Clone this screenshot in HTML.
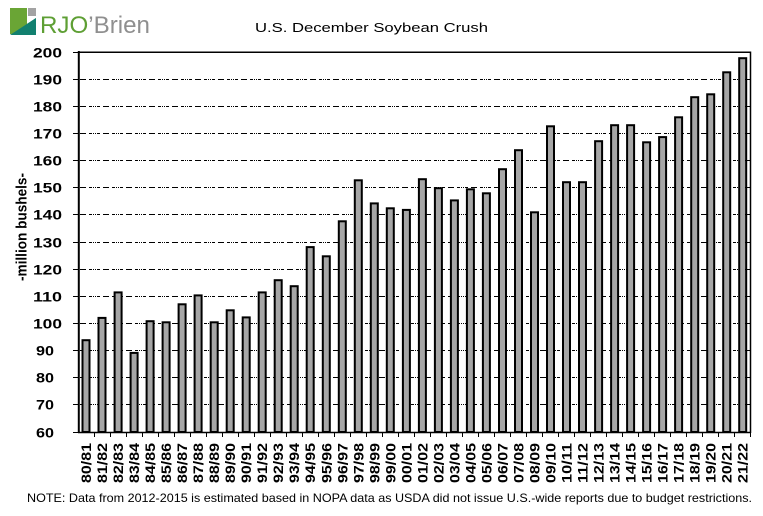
<!DOCTYPE html>
<html><head><meta charset="utf-8"><style>
html,body{margin:0;padding:0;background:#fff;}
svg{display:block;}
text{font-family:"Liberation Sans",Arial,sans-serif;fill:#000;}
.yl{font-size:14px;font-weight:bold;}
.xl{font-size:14px;font-weight:bold;}
</style></head><body>
<svg width="763" height="516" viewBox="0 0 763 516" xmlns="http://www.w3.org/2000/svg">
<rect width="763" height="516" fill="#fff"/>
<!-- logo -->
<rect x="10" y="8" width="17" height="26" fill="#6aa535"/>
<rect x="28" y="8" width="8" height="8" fill="#a3a3a3"/>
<polygon points="10,35 36,18 36,35" fill="#12806f"/>
<polygon points="27,24 36,18 36,35 27,35" fill="#12806f"/>
<text x="40" y="33" font-size="24" textLength="110" lengthAdjust="spacingAndGlyphs"><tspan style="fill:#5e9f34">RJO</tspan><tspan style="fill:#8f8f8f">’Brien</tspan></text>
<!-- title -->
<text x="255" y="32" font-size="13" textLength="233" lengthAdjust="spacingAndGlyphs">U.S. December Soybean Crush</text>
<!-- gridlines -->
<g stroke="#000" stroke-width="1.1" stroke-dasharray="6 3 3 1 1 1 1 1 3 3" fill="none">
<line x1="80" y1="404.5" x2="750" y2="404.5"/>
<line x1="80" y1="377.5" x2="750" y2="377.5"/>
<line x1="80" y1="350.5" x2="750" y2="350.5"/>
<line x1="80" y1="323.5" x2="750" y2="323.5"/>
<line x1="80" y1="296.5" x2="750" y2="296.5"/>
<line x1="80" y1="269.5" x2="750" y2="269.5"/>
<line x1="80" y1="242.5" x2="750" y2="242.5"/>
<line x1="80" y1="214.5" x2="750" y2="214.5"/>
<line x1="80" y1="187.5" x2="750" y2="187.5"/>
<line x1="80" y1="160.5" x2="750" y2="160.5"/>
<line x1="80" y1="133.5" x2="750" y2="133.5"/>
<line x1="80" y1="106.5" x2="750" y2="106.5"/>
<line x1="80" y1="79.5" x2="750" y2="79.5"/>
</g>
<!-- bars -->
<g fill="#a6a6a6" stroke="#000" stroke-width="2">
<rect x="82.5" y="340.2" width="7" height="91.8"/>
<rect x="98.5" y="317.9" width="7" height="114.1"/>
<rect x="114.6" y="292.4" width="7" height="139.6"/>
<rect x="130.6" y="352.9" width="7" height="79.1"/>
<rect x="146.6" y="321.2" width="7" height="110.8"/>
<rect x="162.6" y="322.3" width="7" height="109.7"/>
<rect x="178.6" y="304.3" width="7" height="127.7"/>
<rect x="194.6" y="295.4" width="7" height="136.6"/>
<rect x="210.7" y="322.3" width="7" height="109.7"/>
<rect x="226.7" y="310.3" width="7" height="121.7"/>
<rect x="242.7" y="317.4" width="7" height="114.6"/>
<rect x="258.7" y="292.4" width="7" height="139.6"/>
<rect x="274.7" y="280.2" width="7" height="151.8"/>
<rect x="290.7" y="286.2" width="7" height="145.8"/>
<rect x="306.7" y="247.1" width="7" height="184.9"/>
<rect x="322.8" y="256.3" width="7" height="175.7"/>
<rect x="338.8" y="221.3" width="7" height="210.7"/>
<rect x="354.8" y="180.3" width="7" height="251.7"/>
<rect x="370.8" y="203.4" width="7" height="228.6"/>
<rect x="386.8" y="208.3" width="7" height="223.7"/>
<rect x="402.9" y="209.9" width="7" height="222.1"/>
<rect x="418.9" y="179.2" width="7" height="252.8"/>
<rect x="434.9" y="188.2" width="7" height="243.8"/>
<rect x="450.9" y="200.4" width="7" height="231.6"/>
<rect x="466.9" y="189.3" width="7" height="242.7"/>
<rect x="482.9" y="193.3" width="7" height="238.7"/>
<rect x="499.0" y="169.2" width="7" height="262.8"/>
<rect x="515.0" y="150.2" width="7" height="281.8"/>
<rect x="531.0" y="212.3" width="7" height="219.7"/>
<rect x="547.0" y="126.3" width="7" height="305.7"/>
<rect x="563.0" y="182.2" width="7" height="249.8"/>
<rect x="579.0" y="182.2" width="7" height="249.8"/>
<rect x="595.1" y="141.2" width="7" height="290.8"/>
<rect x="611.1" y="125.2" width="7" height="306.8"/>
<rect x="627.1" y="125.2" width="7" height="306.8"/>
<rect x="643.1" y="142.3" width="7" height="289.7"/>
<rect x="659.1" y="137.1" width="7" height="294.9"/>
<rect x="675.1" y="117.3" width="7" height="314.7"/>
<rect x="691.2" y="97.2" width="7" height="334.8"/>
<rect x="707.2" y="94.3" width="7" height="337.7"/>
<rect x="723.2" y="72.3" width="7" height="359.7"/>
<rect x="739.2" y="58.2" width="7" height="373.8"/>
</g>
<!-- axes frame -->
<g stroke="#000" fill="none">
<line x1="78.8" y1="51" x2="78.8" y2="433" stroke-width="2"/>
<line x1="78" y1="432.5" x2="751" y2="432.5" stroke-width="1.5"/>
<line x1="78" y1="52.3" x2="751" y2="52.3" stroke-width="1.5"/>
<line x1="750.5" y1="51.5" x2="750.5" y2="433" stroke-width="1.5"/>
<path stroke-width="1" d="M73 52.5H79M73 79.5H79M73 106.5H79M73 133.5H79M73 160.5H79M73 187.5H79M73 214.5H79M73 242.5H79M73 269.5H79M73 296.5H79M73 323.5H79M73 350.5H79M73 377.5H79M73 404.5H79M73 432.5H79"/>
<path stroke-width="1" d="M745 79.5H750M745 106.5H750M745 133.5H750M745 160.5H750M745 187.5H750M745 214.5H750M745 242.5H750M745 269.5H750M745 296.5H750M745 323.5H750M745 350.5H750M745 377.5H750M745 404.5H750"/>
<path stroke-width="1" d="M94.5 432V437M110.5 432V437M126.5 432V437M142.5 432V437M158.5 432V437M174.5 432V437M190.5 432V437M206.5 432V437M222.5 432V437M238.5 432V437M254.5 432V437M270.5 432V437M286.5 432V437M302.5 432V437M318.5 432V437M334.5 432V437M350.5 432V437M366.5 432V437M382.5 432V437M398.5 432V437M414.5 432V437M430.5 432V437M446.5 432V437M462.5 432V437M478.5 432V437M494.5 432V437M510.5 432V437M526.5 432V437M542.5 432V437M558.5 432V437M574.5 432V437M590.5 432V437M606.5 432V437M622.5 432V437M638.5 432V437M654.5 432V437M670.5 432V437M686.5 432V437M702.5 432V437M718.5 432V437M734.5 432V437M750.5 432V437"/>
</g>
<!-- y tick labels -->
<g class="yl">
<text x="33" y="57.5" textLength="29" lengthAdjust="spacingAndGlyphs">200</text>
<text x="33" y="84.5" textLength="29" lengthAdjust="spacingAndGlyphs">190</text>
<text x="33" y="111.5" textLength="29" lengthAdjust="spacingAndGlyphs">180</text>
<text x="33" y="138.5" textLength="29" lengthAdjust="spacingAndGlyphs">170</text>
<text x="33" y="165.5" textLength="29" lengthAdjust="spacingAndGlyphs">160</text>
<text x="33" y="192.5" textLength="29" lengthAdjust="spacingAndGlyphs">150</text>
<text x="33" y="219.5" textLength="29" lengthAdjust="spacingAndGlyphs">140</text>
<text x="33" y="247.5" textLength="29" lengthAdjust="spacingAndGlyphs">130</text>
<text x="33" y="274.5" textLength="29" lengthAdjust="spacingAndGlyphs">120</text>
<text x="33" y="301.5" textLength="29" lengthAdjust="spacingAndGlyphs">110</text>
<text x="33" y="328.5" textLength="29" lengthAdjust="spacingAndGlyphs">100</text>
<text x="36" y="355.5" textLength="18" lengthAdjust="spacingAndGlyphs">90</text>
<text x="36" y="382.5" textLength="18" lengthAdjust="spacingAndGlyphs">80</text>
<text x="36" y="409.5" textLength="18" lengthAdjust="spacingAndGlyphs">70</text>
<text x="36" y="437.5" textLength="18" lengthAdjust="spacingAndGlyphs">60</text>
</g>
<!-- y axis title -->
<text transform="translate(26.5,227) rotate(-90)" text-anchor="middle" font-size="15" font-weight="bold" textLength="108" lengthAdjust="spacingAndGlyphs">-million bushels-</text>
<!-- x labels -->
<g class="xl" text-anchor="end">
<text transform="translate(91.0,443) rotate(-90)" textLength="40" lengthAdjust="spacingAndGlyphs">80/81</text>
<text transform="translate(107.0,443) rotate(-90)" textLength="40" lengthAdjust="spacingAndGlyphs">81/82</text>
<text transform="translate(123.1,443) rotate(-90)" textLength="40" lengthAdjust="spacingAndGlyphs">82/83</text>
<text transform="translate(139.1,443) rotate(-90)" textLength="40" lengthAdjust="spacingAndGlyphs">83/84</text>
<text transform="translate(155.1,443) rotate(-90)" textLength="40" lengthAdjust="spacingAndGlyphs">84/85</text>
<text transform="translate(171.1,443) rotate(-90)" textLength="40" lengthAdjust="spacingAndGlyphs">85/86</text>
<text transform="translate(187.1,443) rotate(-90)" textLength="40" lengthAdjust="spacingAndGlyphs">86/87</text>
<text transform="translate(203.1,443) rotate(-90)" textLength="40" lengthAdjust="spacingAndGlyphs">87/88</text>
<text transform="translate(219.2,443) rotate(-90)" textLength="40" lengthAdjust="spacingAndGlyphs">88/89</text>
<text transform="translate(235.2,443) rotate(-90)" textLength="40" lengthAdjust="spacingAndGlyphs">89/90</text>
<text transform="translate(251.2,443) rotate(-90)" textLength="40" lengthAdjust="spacingAndGlyphs">90/91</text>
<text transform="translate(267.2,443) rotate(-90)" textLength="40" lengthAdjust="spacingAndGlyphs">91/92</text>
<text transform="translate(283.2,443) rotate(-90)" textLength="40" lengthAdjust="spacingAndGlyphs">92/93</text>
<text transform="translate(299.2,443) rotate(-90)" textLength="40" lengthAdjust="spacingAndGlyphs">93/94</text>
<text transform="translate(315.2,443) rotate(-90)" textLength="40" lengthAdjust="spacingAndGlyphs">94/95</text>
<text transform="translate(331.3,443) rotate(-90)" textLength="40" lengthAdjust="spacingAndGlyphs">95/96</text>
<text transform="translate(347.3,443) rotate(-90)" textLength="40" lengthAdjust="spacingAndGlyphs">96/97</text>
<text transform="translate(363.3,443) rotate(-90)" textLength="40" lengthAdjust="spacingAndGlyphs">97/98</text>
<text transform="translate(379.3,443) rotate(-90)" textLength="40" lengthAdjust="spacingAndGlyphs">98/99</text>
<text transform="translate(395.3,443) rotate(-90)" textLength="40" lengthAdjust="spacingAndGlyphs">99/00</text>
<text transform="translate(411.4,443) rotate(-90)" textLength="40" lengthAdjust="spacingAndGlyphs">00/01</text>
<text transform="translate(427.4,443) rotate(-90)" textLength="40" lengthAdjust="spacingAndGlyphs">01/02</text>
<text transform="translate(443.4,443) rotate(-90)" textLength="40" lengthAdjust="spacingAndGlyphs">02/03</text>
<text transform="translate(459.4,443) rotate(-90)" textLength="40" lengthAdjust="spacingAndGlyphs">03/04</text>
<text transform="translate(475.4,443) rotate(-90)" textLength="40" lengthAdjust="spacingAndGlyphs">04/05</text>
<text transform="translate(491.4,443) rotate(-90)" textLength="40" lengthAdjust="spacingAndGlyphs">05/06</text>
<text transform="translate(507.5,443) rotate(-90)" textLength="40" lengthAdjust="spacingAndGlyphs">06/07</text>
<text transform="translate(523.5,443) rotate(-90)" textLength="40" lengthAdjust="spacingAndGlyphs">07/08</text>
<text transform="translate(539.5,443) rotate(-90)" textLength="40" lengthAdjust="spacingAndGlyphs">08/09</text>
<text transform="translate(555.5,443) rotate(-90)" textLength="40" lengthAdjust="spacingAndGlyphs">09/10</text>
<text transform="translate(571.5,443) rotate(-90)" textLength="40" lengthAdjust="spacingAndGlyphs">10/11</text>
<text transform="translate(587.5,443) rotate(-90)" textLength="40" lengthAdjust="spacingAndGlyphs">11/12</text>
<text transform="translate(603.6,443) rotate(-90)" textLength="40" lengthAdjust="spacingAndGlyphs">12/13</text>
<text transform="translate(619.6,443) rotate(-90)" textLength="40" lengthAdjust="spacingAndGlyphs">13/14</text>
<text transform="translate(635.6,443) rotate(-90)" textLength="40" lengthAdjust="spacingAndGlyphs">14/15</text>
<text transform="translate(651.6,443) rotate(-90)" textLength="40" lengthAdjust="spacingAndGlyphs">15/16</text>
<text transform="translate(667.6,443) rotate(-90)" textLength="40" lengthAdjust="spacingAndGlyphs">16/17</text>
<text transform="translate(683.6,443) rotate(-90)" textLength="40" lengthAdjust="spacingAndGlyphs">17/18</text>
<text transform="translate(699.7,443) rotate(-90)" textLength="40" lengthAdjust="spacingAndGlyphs">18/19</text>
<text transform="translate(715.7,443) rotate(-90)" textLength="40" lengthAdjust="spacingAndGlyphs">19/20</text>
<text transform="translate(731.7,443) rotate(-90)" textLength="40" lengthAdjust="spacingAndGlyphs">20/21</text>
<text transform="translate(747.7,443) rotate(-90)" textLength="40" lengthAdjust="spacingAndGlyphs">21/22</text>
</g>
<!-- note -->
<text x="27" y="502" font-size="12" textLength="725" lengthAdjust="spacingAndGlyphs">NOTE: Data from 2012-2015 is estimated based in NOPA data as USDA did not issue U.S.-wide reports due to budget restrictions.</text>
</svg>
</body></html>
